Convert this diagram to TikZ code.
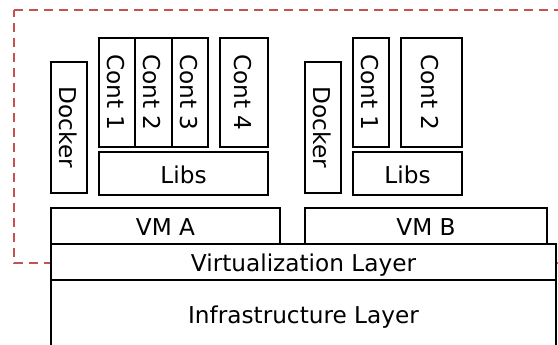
\documentclass[tikz,border=0pt]{standalone}
\usepackage{fontspec}
\setmainfont{DejaVu Sans}
\begin{document}
\begin{tikzpicture}[x=1pt,y=-1pt,
  box/.style={draw=black, fill=white, line width=2pt, inner sep=0pt, outer sep=0pt,
    font=\fontsize{23.2}{27}\selectfont, text height=19.5pt, text depth=0pt},
  vbox/.style={box, rotate=-90},
  hostline/.style={draw={rgb,255:red,200;green,80;blue,80}, line width=2pt,
    dash pattern=on 9pt off 6pt}]
\useasboundingbox (0,0) rectangle (558,345);
\clip (0,0) rectangle (558,345);

% host boundary (runs past the right edge)
\draw[hostline] (14,10) -- (600,10);
\draw[hostline, dash phase=2pt] (14,10) -- (14,263) -- (60,263);
\draw[hostline] (550,263) -- (600,263);

% VM A stack
\node[vbox, minimum width=131pt, minimum height=36pt] (dockA) at (69,127.5) {Docker};
\node[vbox, minimum width=109pt, minimum height=36pt] (c1A) at (117,92.5) {Cont 1};
\node[vbox, minimum width=109pt, minimum height=37pt] (c2A) at (153.5,92.5) {Cont 2};
\node[vbox, minimum width=109pt, minimum height=36pt] (c3A) at (190,92.5) {Cont 3};
\node[vbox, minimum width=109pt, minimum height=48pt] (c4A) at (244,92.5) {Cont 4};
\node[box, minimum width=169pt, minimum height=43pt] (libsA) at (183.5,173.5) {Libs};
\node[box, minimum width=229pt, minimum height=36pt] (vmA) at (165.5,226) {VM A};

% VM B stack
\node[vbox, minimum width=131pt, minimum height=36pt] (dockB) at (323,127.5) {Docker};
\node[vbox, minimum width=109pt, minimum height=36pt] (c1B) at (371,92.5) {Cont 1};
\node[vbox, minimum width=109pt, minimum height=61pt] (c2B) at (431.5,92.5) {Cont 2};
\node[box, minimum width=109pt, minimum height=43pt] (libsB) at (407.5,173.5) {Libs};
\node[box, minimum width=242pt, minimum height=36pt] (vmB) at (426,226) {VM B};

% shared layers
\node[box, minimum width=505pt, minimum height=36pt] (virt) at (303.5,262) {Virtualization Layer};
\node[box, minimum width=505pt, minimum height=67pt] (infra) at (303.5,313.5) {Infrastructure Layer};
\end{tikzpicture}
\end{document}
